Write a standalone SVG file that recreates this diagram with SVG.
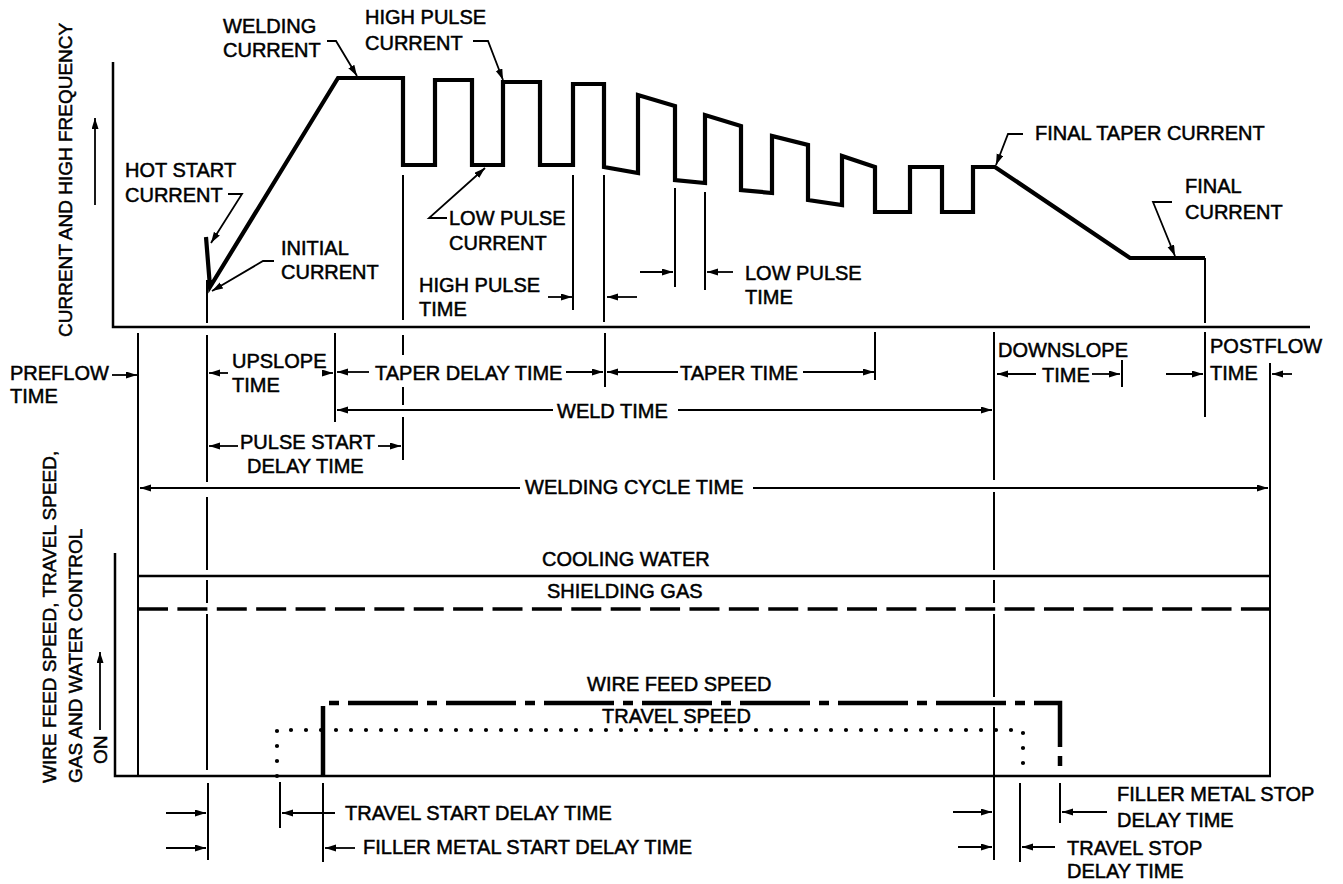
<svg xmlns="http://www.w3.org/2000/svg" width="1343" height="884" viewBox="0 0 1343 884">
<defs>
<marker id="ah" markerUnits="userSpaceOnUse" markerWidth="12" markerHeight="8" refX="11" refY="3.5" orient="auto">
<path d="M0,0 L11,3.5 L0,7 z" fill="#000"/>
</marker>
</defs>
<style>
text{font-family:"Liberation Sans",Arial,sans-serif;font-size:20px;fill:#000;stroke:#000;stroke-width:0.5px}
.rot{font-size:19px}
.thin{stroke:#000;stroke-width:2;fill:none}
.axis{stroke:#000;stroke-width:2.5;fill:none}
.wave{stroke:#000;stroke-width:4.2;fill:none;stroke-linejoin:miter}
.arr{stroke:#000;stroke-width:1.8;fill:none;marker-end:url(#ah)}
.water{stroke:#000;stroke-width:2.6;fill:none}
.gas{stroke:#000;stroke-width:3.6;fill:none;stroke-dasharray:30 9.39}
.wire{stroke:#000;stroke-width:4.5;fill:none;stroke-dasharray:70 9 10 9}
.travel{stroke:#000;stroke-width:4.2;fill:none;stroke-dasharray:0 15;stroke-linecap:round}
</style>
<rect width="1343" height="884" fill="#fff"/>

<g id="axes">
<path class="axis" d="M113,62 V327 H1310"/>
<path class="axis" d="M115,553 V776 H1271"/>
</g>

<g id="current-waveform">
<path class="wave" d="M206,237 L210,287 L338,78 L403,78 L403,165 L435,165 L435,80 L472,80 L472,165 L503,165 L503,82 L540,82 L540,165 L573,165 L573,84 L604,84 L604,167 L638,173 L638,95 L675,106 L675,180 L705,183 L705,115 L741,126 L741,190 L772,193 L772,136 L808,145 L808,200 L842,205 L842,156 L875,167 L875,212 L910,212 L910,167 L942,167 L942,212 L973,212 L973,167 L995,167 L1130,258 L1205,258"/>
<path class="thin" d="M1205,258 V323"/>
</g>

<g id="guide-lines">
<path class="thin" d="M207,280 V323 M403,175 V320 M573,175 V310 M604,175 V322 M675,188 V287 M705,192 V290"/>
<path class="thin" d="M138,333 V776"/>
<path class="thin" d="M207,335 V482 M207,497 V570 M207,580 V603 M207,614 V770 M208,783 V860"/>
<path class="thin" d="M335,333 V422"/>
<path class="thin" d="M403,335 V355 M403,387 V405 M403,417 V460"/>
<path class="thin" d="M605,333 V387"/>
<path class="thin" d="M875,332 V380"/>
<path class="thin" d="M994,332 V480 M994,492 V570 M994,580 V603 M994,614 V697 M994,707 V860"/>
<path class="thin" d="M1122,360 V387"/>
<path class="thin" d="M1205,332 V417"/>
<path class="thin" d="M1270,363 V776"/>
<path class="thin" d="M280,782 V828 M323,783 V862 M1020,783 V862 M1060,783 V823"/>
</g>

<g id="control-lines">
<path class="water" d="M138,576 H1271"/>
<path class="gas" d="M138,609 H1271"/>
<path class="wire" d="M323,776 V703 H1060 V776"/>
<path class="travel" d="M277,776 V730 H1023 V776"/>
</g>

<g id="connectors">
<path class="arr" d="M95,205 V118"/>
<path class="arr" d="M100,730 V652"/>
<path class="arr" d="M327,41 H336 L357,76"/>
<path class="arr" d="M473,41 H488 L503,80"/>
<path class="arr" d="M228,194 H242 L211,243"/>
<path class="arr" d="M274,261 H263 L212,291"/>
<path class="arr" d="M447,218 H429 L485,168"/>
<path class="arr" d="M1023,134 H1008 L996,165"/>
<path class="arr" d="M1172,202 H1153 L1175,256"/>
<path class="arr" d="M548,297 H572"/>
<path class="arr" d="M637,297 H607"/>
<path class="arr" d="M640,272 H673"/>
<path class="arr" d="M733,272 H707"/>
<path class="arr" d="M112,375 H137"/>
<path class="arr" d="M228,373 H209"/>
<path class="arr" d="M322,373 H333"/>
<path class="arr" d="M369,372 H337"/>
<path class="arr" d="M566,372 H603"/>
<path class="arr" d="M678,372 H607"/>
<path class="arr" d="M803,372 H874"/>
<path class="arr" d="M553,410 H337"/>
<path class="arr" d="M678,410 H992"/>
<path class="arr" d="M1036,374 H997"/>
<path class="arr" d="M1092,374 H1120"/>
<path class="arr" d="M1166,374 H1203"/>
<path class="arr" d="M1292,374 H1272"/>
<path class="arr" d="M238,446 H209"/>
<path class="arr" d="M378,446 H401"/>
<path class="arr" d="M520,488 H140"/>
<path class="arr" d="M753,488 H1268"/>
<path class="arr" d="M166,813 H206"/>
<path class="arr" d="M166,848 H206"/>
<path class="arr" d="M335,813 H282"/>
<path class="arr" d="M355,848 H325"/>
<path class="arr" d="M953,812 H992"/>
<path class="arr" d="M958,847 H992"/>
<path class="arr" d="M1107,812 H1062"/>
<path class="arr" d="M1055,847 H1022"/>
</g>

<g id="label-axis-current"><text class="rot" transform="translate(72,337) rotate(-90)">CURRENT AND HIGH FREQUENCY</text></g>
<g id="label-axis-control">
<text class="rot" transform="translate(56,783) rotate(-90)">WIRE FEED SPEED, TRAVEL SPEED,</text>
<text class="rot" transform="translate(82,783) rotate(-90)">GAS AND WATER CONTROL</text>
<text class="rot" transform="translate(107,764) rotate(-90)">ON</text>
</g>
<g id="label-welding-current"><text x="223" y="33">WELDING</text><text x="223" y="57">CURRENT</text></g>
<g id="label-high-pulse-current"><text x="365" y="24">HIGH PULSE</text><text x="365" y="50">CURRENT</text></g>
<g id="label-hot-start"><text x="125" y="177">HOT START</text><text x="125" y="202">CURRENT</text></g>
<g id="label-initial"><text x="281" y="255">INITIAL</text><text x="281" y="279">CURRENT</text></g>
<g id="label-low-pulse-current"><text x="449" y="225">LOW PULSE</text><text x="449" y="250">CURRENT</text></g>
<g id="label-high-pulse-time"><text x="419" y="292">HIGH PULSE</text><text x="419" y="316">TIME</text></g>
<g id="label-low-pulse-time"><text x="745" y="280">LOW PULSE</text><text x="745" y="304">TIME</text></g>
<g id="label-final-taper"><text x="1035" y="140">FINAL TAPER CURRENT</text></g>
<g id="label-final-current"><text x="1185" y="193">FINAL</text><text x="1185" y="219">CURRENT</text></g>
<g id="label-preflow"><text x="10" y="380">PREFLOW</text><text x="10" y="403">TIME</text></g>
<g id="label-upslope"><text x="232" y="368">UPSLOPE</text><text x="232" y="392">TIME</text></g>
<g id="label-taper-delay"><text x="375" y="380">TAPER DELAY TIME</text></g>
<g id="label-taper-time"><text x="680" y="380">TAPER TIME</text></g>
<g id="label-weld-time"><text x="557" y="418">WELD TIME</text></g>
<g id="label-downslope"><text x="998" y="357">DOWNSLOPE</text><text x="1042" y="382">TIME</text></g>
<g id="label-postflow"><text x="1210" y="353">POSTFLOW</text><text x="1210" y="380">TIME</text></g>
<g id="label-pulse-start"><text x="240" y="449">PULSE START</text><text x="247" y="473">DELAY TIME</text></g>
<g id="label-cycle"><text x="525" y="494">WELDING CYCLE TIME</text></g>
<g id="label-water"><text x="542" y="566">COOLING WATER</text></g>
<g id="label-gas"><text x="547" y="598">SHIELDING GAS</text></g>
<g id="label-wire"><text x="587" y="691">WIRE FEED SPEED</text></g>
<g id="label-travel"><text x="602" y="723">TRAVEL SPEED</text></g>
<g id="label-travel-start"><text x="345" y="820">TRAVEL START DELAY TIME</text></g>
<g id="label-filler-start"><text x="363" y="854">FILLER METAL START DELAY TIME</text></g>
<g id="label-filler-stop"><text x="1117" y="801">FILLER METAL STOP</text><text x="1117" y="827">DELAY TIME</text></g>
<g id="label-travel-stop"><text x="1067" y="855">TRAVEL STOP</text><text x="1067" y="878">DELAY TIME</text></g>
</svg>
